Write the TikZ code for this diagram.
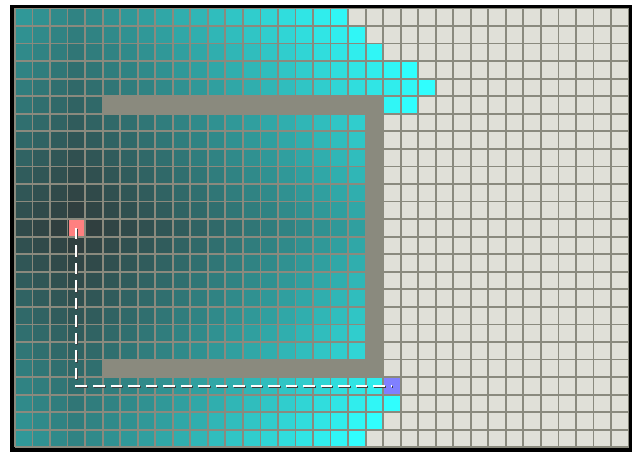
\documentclass[tikz,border=0pt]{standalone}
\definecolor{libreC}{RGB}{224,224,216}
\definecolor{muroC}{RGB}{138,138,126}
\definecolor{inicioC}{RGB}{255,128,128}
\definecolor{metaC}{RGB}{128,128,255}
\begin{document}
\begin{tikzpicture}[x=1pt,y=-1pt,
  linea/.style={draw=muroC,line width=1.8pt},
  celda/.style={minimum size=15.7pt,inner sep=0pt,draw=none},
  camino/.style={white,line width=1.8pt,dash pattern=on 11.5pt off 6pt},
  sombra/.style={black!75,line width=1.8pt,dash pattern=on 11.5pt off 6pt}]
  \useasboundingbox (0,0) rectangle (635,452);
  % marco
  \fill[black] (10,5) rectangle (632,452);
  \begin{scope}[shift={(15,8.5)},x=17.53pt,y=-17.55pt]
  % fondo sin visitar
  \fill[libreC] (0,0) rectangle (35,25);
  % celdas visitadas
  \foreach \j/\a/\b in {0/0/18,1/0/19,2/0/20,3/0/22,4/0/23,5/0/4,5/21/22,
      6/0/19,7/0/19,8/0/19,9/0/19,10/0/19,11/0/19,12/0/19,13/0/19,
      14/0/19,15/0/19,16/0/19,17/0/19,18/0/19,19/0/19,20/0/4,
      21/0/20,22/0/21,23/0/20,24/0/19}{
    \foreach \i in {\a,...,\b}{
      \pgfmathtruncatemacro\g{abs(\i-3)+abs(\j-12)+2*(\j==5)*(\i>20)}
      \pgfmathtruncatemacro\v{min(255,58+5.49*\g+0.055*\g*\g)}
      \definecolor{visC}{RGB}{48,\v,\v}
      \fill[visC] (\i,\j) rectangle ++(1,1);
    }
  }
  % rejilla
  \foreach \i in {0,...,35} \draw[linea] (\i,0) -- (\i,25);
  \foreach \j in {0,...,25} \draw[linea] (0,\j) -- (35,\j);
  % muro
  \fill[muroC] (5,5) rectangle (21,6);
  \fill[muroC] (20,5) rectangle (21,21);
  \fill[muroC] (5,20) rectangle (21,21);
  % inicio y meta
  \node[celda,fill=inicioC] (inicio) at (3.5,12.5) {};
  \node[celda,fill=metaC] (meta) at (21.5,21.5) {};
  % camino
  \draw[sombra] ([xshift=1pt,yshift=-1pt]inicio.center) |- ([xshift=1pt,yshift=-1pt]meta.center);
  \draw[camino] (inicio.center) |- (meta.center);
  \end{scope}
\end{tikzpicture}
\end{document}
